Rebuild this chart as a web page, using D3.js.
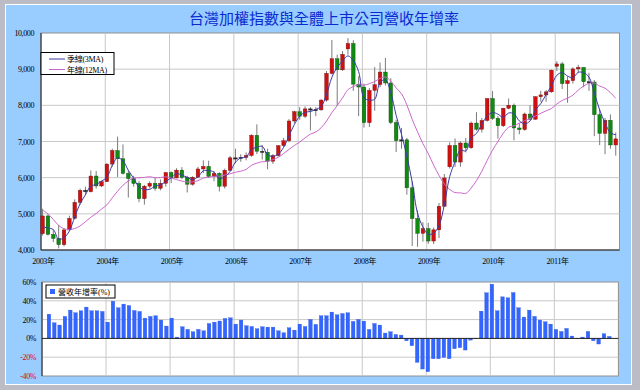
<!DOCTYPE html>
<html><head><meta charset="utf-8">
<script src="https://cdn.jsdelivr.net/npm/d3@7"></script>
<style>body{margin:0;background:#c0c0c8}svg{display:block}</style>
</head><body><svg id="c" width="640" height="390"></svg>
<script>
const title = "台灣加權指數與全體上市公司營收年增率";
const yearLabels = ["2003年","2004年","2005年","2006年","2007年","2008年","2009年","2010年","2011年"];
const indexTicks = [4000,5000,6000,7000,8000,9000,10000];
const pctTicks = [-40,-20,0,20,40,60];

const openV = [4452,4941,4432,4321,4148,4555,4872,5318,5650,5611,6045,5771,
 5890,6375,6750,6522,6117,5977,5839,5420,5765,5845,5706,5844,
 6140,5994,6208,6006,5819,6012,6241,6311,6033,6118,5764,6204,
 6548,6532,6561,6614,7171,6730,6704,6455,6611,6884,7021,7567,
 7823,7700,7902,7884,7875,8145,8883,9287,8982,9560,9711,8586,
 8506,7521,8413,8572,8920,8619,7524,7024,7046,5719,4870,4460,
 4591,4248,4557,5210,6300,6890,6432,6958,6826,7509,7340,7582,
 8188,7640,7436,7920,8004,7374,7329,7760,7616,8238,8287,8372,
 9080,9145,8600,8683,9007,9050,8652,8644,7741,7225,7587,6904];
const highV = [5141,4990,4560,4690,4600,4950,5400,5700,5750,6200,6182,5920,
 6400,6800,7135,6918,6200,6050,5900,5800,5900,6000,5950,6160,
 6170,6260,6290,6050,6040,6300,6480,6470,6180,6150,6250,6600,
 6800,6650,6700,7200,7474,6900,6800,6650,6900,7100,7620,7850,
 7950,7970,7950,7950,8170,8950,9807,9400,9500,9859,9800,8800,
 8600,8480,9055,9183,9309,8750,7600,7376,7100,5900,5100,4770,
 4750,4620,5300,6100,6977,7084,7000,7100,7550,7811,7650,8190,
 8395,7700,7930,8190,8050,7500,7800,8000,8250,8400,8420,8990,
 9220,9200,8800,9050,9120,9040,8900,8700,7900,7650,7750,7250];
const lowV = [4400,4400,4220,4044,4100,4550,4850,5250,5530,5590,5700,5740,
 5880,6300,6020,6090,5450,5750,5320,5255,5700,5640,5650,5750,
 5850,5980,5960,5590,5780,6000,6130,5990,5900,5620,5700,6180,
 6400,6440,6480,6580,6650,6500,6232,6380,6580,6850,6980,7500,
 7600,7650,7306,7700,7850,8100,8850,7987,8950,9400,8400,7700,
 7384,7400,7850,8500,8550,7480,6708,6800,5530,4110,4090,4230,
 4170,4164,4328,5200,6250,6300,6300,6700,6800,7300,7250,7550,
 7600,7080,7400,7890,7032,7200,7300,7600,7600,8100,8100,8350,
 8950,8450,8070,8600,8900,8500,8400,7148,6900,6650,6800,6609];
const closeV = [4941,4432,4321,4148,4555,4872,5318,5650,5611,6045,5771,5890,
 6375,6750,6522,6117,5977,5839,5420,5765,5845,5706,5844,6140,
 5994,6208,6006,5819,6012,6241,6311,6033,6118,5764,6204,6548,
 6532,6561,6614,7171,6730,6704,6455,6611,6884,7021,7567,7823,
 7700,7902,7884,7875,8145,8883,9287,8982,9411,9711,8586,8506,
 7521,8413,8572,8920,8619,7524,7024,7046,5719,4870,4460,4591,
 4248,4557,5210,5992,6890,6432,6958,6826,7509,7340,7582,8188,
 7640,7436,7920,8004,7374,7329,7760,7616,8238,8287,8372,8972,
 9145,8600,8683,9007,9050,8652,8644,7741,7225,7587,6904,7072];
const ma3 = [4640,4608,4565,4300,4341,4525,4915,5280,5526,5769,5809,5902,
 6012,6338,6549,6463,6205,5978,5745,5675,5677,5772,5798,5897,
 5993,6114,6069,6011,5946,6024,6188,6195,6154,5972,6029,6172,
 6428,6547,6569,6782,6838,6868,6630,6590,6650,6839,7157,7470,
 7697,7808,7829,7887,7968,8301,8772,9051,9227,9368,9236,8934,
 8204,8147,8169,8635,8704,8354,7722,7198,6596,5878,5016,4640,
 4433,4465,4672,5253,6031,6438,6760,6739,7098,7225,7477,7703,
 7803,7755,7665,7787,7766,7569,7488,7568,7871,8047,8299,8544,
 8830,8906,8809,8763,8913,8903,8782,8346,7870,7518,7239,7188];
const ma12 = [5102,4999,4845,4680,4587,4563,4595,4666,4784,4906,5010,5130,
 5249,5442,5626,5790,5908,5989,5997,6007,6026,5998,6004,6025,
 5993,5948,5905,5880,5883,5917,5991,6013,6036,6041,6071,6105,
 6150,6179,6230,6342,6402,6441,6453,6501,6565,6670,6783,6889,
 6987,7099,7204,7263,7381,7563,7799,7996,8207,8431,8516,8573,
 8558,8600,8658,8745,8784,8671,8482,8321,8013,7610,7266,6940,
 6667,6346,6066,5822,5678,5587,5581,5563,5712,5918,6178,6478,
 6760,7000,7226,7394,7434,7509,7576,7642,7702,7781,7847,7912,
 8038,8135,8198,8282,8422,8532,8606,8616,8532,8473,8351,8193];
const growth = [null,25.8,16.6,14.2,23.4,30.1,27.3,29.4,33.3,29.4,29.4,28.7,
 17.3,39.6,32.6,36.5,35.0,29.7,28.7,21.6,23.4,24.1,19.5,13.1,
 21.6,1.4,12.4,9.6,7.1,9.6,8.1,15.9,17.3,18.5,21.2,21.9,
 15.2,19.5,13.5,12.7,10.3,12.4,12.0,12.0,8.1,6.0,11.3,8.8,
 15.2,12.7,20.2,14.9,24.1,24.1,28.0,25.1,26.5,27.3,18.1,20.2,
 18.4,9.6,15.9,14.2,5.7,7.1,4.2,3.5,-2.5,-7.8,-25.5,-32.6,
 -35.4,-21.6,-21.6,-20.2,-21.6,-11.0,-9.9,-12.4,-1.8,0.3,29.0,48.5,
 57.7,29.4,44.2,43.2,48.8,32.6,22.7,30.1,23.4,19.5,17.7,15.2,
 9.6,7.4,10.6,2.5,-0.4,1.4,7.4,-2.5,-6.0,5.0,2.1,null];

const N = closeV.length;
const svg = d3.select("#c");
const font = "'Liberation Serif','Noto Sans CJK TC',serif";

// frame
svg.append("rect").attr("x",0).attr("y",0).attr("width",640).attr("height",390).attr("fill","#bcbcc6");
svg.append("rect").attr("x",5.5).attr("y",4.5).attr("width",626).attr("height",380)
  .attr("fill","#99ccff").attr("stroke","#ffffff");

svg.append("text").attr("x",324).attr("y",24).attr("text-anchor","middle")
  .attr("font-family","'Noto Sans CJK TC',sans-serif").attr("font-size",15)
  .attr("fill","#0a2ad0").text(title);

// ---------- top chart ----------
const x = d3.scaleLinear().domain([0,N]).range([41,619.5]);
const y = d3.scaleLinear().domain([4000,10000]).range([250,33]);
const g = svg.append("g");
g.append("rect").attr("x",41).attr("y",33).attr("width",578.5).attr("height",217)
  .attr("fill","#fff").attr("stroke","#909090");
g.selectAll(".hg").data(indexTicks.slice(1,-1)).join("line")
  .attr("x1",41).attr("x2",619.5).attr("y1",d=>y(d)).attr("y2",d=>y(d))
  .attr("stroke","#c8c8c8");
g.selectAll(".vg").data(d3.range(1,9)).join("line")
  .attr("x1",d=>x(d*12)).attr("x2",d=>x(d*12)).attr("y1",33).attr("y2",250)
  .attr("stroke","#c8c8c8");
g.append("line").attr("x1",41).attr("x2",41).attr("y1",33).attr("y2",250).attr("stroke","#222");
g.append("line").attr("x1",41).attr("x2",619.5).attr("y1",250).attr("y2",250).attr("stroke","#222");

g.selectAll(".yt").data(indexTicks).join("text")
  .attr("x",34).attr("y",d=>y(d)+3).attr("text-anchor","end")
  .attr("font-family",font).attr("font-size",8).attr("letter-spacing",-0.4)
  .attr("fill","#000").text(d=>d3.format(",")(d));
g.selectAll(".xt").data(yearLabels).join("text")
  .attr("x",(d,i)=>x(i*12)+2.5).attr("y",264).attr("text-anchor","middle")
  .attr("font-family",font).attr("font-size",8).attr("letter-spacing",-0.3)
  .attr("fill","#000").text(d=>d);

const idx = d3.range(N);
// wicks
g.selectAll(".wk").data(idx).join("line")
  .attr("x1",i=>x(i+0.3)).attr("x2",i=>x(i+0.3))
  .attr("y1",i=>y(highV[i])).attr("y2",i=>y(lowV[i]))
  .attr("stroke","#7a7a7a").attr("stroke-width",1);
// bodies
const bw = 3.6;
g.selectAll(".bd").data(idx).join("rect")
  .attr("x",i=>x(i+0.3)-bw/2).attr("width",bw)
  .attr("y",i=>y(Math.max(openV[i],closeV[i])))
  .attr("height",i=>Math.max(1.2,Math.abs(y(openV[i])-y(closeV[i]))))
  .attr("fill",i=>Math.abs(closeV[i]-openV[i])<40?"#222":(closeV[i]>openV[i]?"#d01010":"#108a10"))
  .attr("stroke",i=>Math.abs(closeV[i]-openV[i])<40?"#222":(closeV[i]>openV[i]?"#701010":"#0a4a0a"))
  .attr("stroke-width",0.4);

const ln = d3.line().x((d,i)=>x(i+0.3)).y(d=>y(d)).curve(d3.curveCatmullRom.alpha(0.5));
g.append("path").attr("d",ln(ma12)).attr("fill","none").attr("stroke","#cc66cc").attr("stroke-width",1);
g.append("path").attr("d",ln(ma3)).attr("fill","none").attr("stroke","#3a3aa8").attr("stroke-width",1);

// legend top
const lg = g.append("g");
lg.append("rect").attr("x",41).attr("y",52.5).attr("width",73).attr("height",22)
  .attr("fill","#fff").attr("stroke","#000");
[["季線(3MA)","#3a3aa8"],["年線(12MA)","#cc66cc"]].forEach((d,k)=>{
  const yy = 59 + k*10.5;
  lg.append("line").attr("x1",49).attr("x2",65).attr("y1",yy).attr("y2",yy).attr("stroke",d[1]);
  lg.append("text").attr("x",67).attr("y",yy+3).attr("font-family",font).attr("font-size",8)
    .attr("letter-spacing",-0.3).attr("fill","#000").text(d[0]);
});

// ---------- bottom chart ----------
const x2 = d3.scaleLinear().domain([0,N]).range([42,618.4]);
const y2 = d3.scaleLinear().domain([-40,60]).range([376,282]);
const b = svg.append("g");
b.append("rect").attr("x",42).attr("y",282).attr("width",576.4).attr("height",94)
  .attr("fill","#fff").attr("stroke","#909090");
b.selectAll(".hg").data([-20,20,40]).join("line")
  .attr("x1",42).attr("x2",618.4).attr("y1",d=>y2(d)).attr("y2",d=>y2(d)).attr("stroke","#c8c8c8");
b.selectAll(".vg").data(d3.range(1,9)).join("line")
  .attr("x1",d=>x2(d*12)).attr("x2",d=>x2(d*12)).attr("y1",282).attr("y2",376).attr("stroke","#c8c8c8");
b.append("line").attr("x1",42).attr("x2",42).attr("y1",282).attr("y2",376).attr("stroke","#222");
b.selectAll(".yt").data(pctTicks).join("text")
  .attr("x",36).attr("y",d=>y2(d)+3).attr("text-anchor","end")
  .attr("font-family",font).attr("font-size",8).attr("letter-spacing",-0.4)
  .attr("fill",d=>d<0?"#e00000":"#000").text(d=>d+"%");
const bidx = idx.filter(i=>growth[i]!==null);
b.selectAll(".bar").data(bidx).join("rect")
  .attr("x",i=>x2(i+0.3)-1.8).attr("width",3.6)
  .attr("y",i=>y2(Math.max(0,growth[i])))
  .attr("height",i=>Math.abs(y2(growth[i])-y2(0)))
  .attr("fill","#3366ff").attr("stroke","#2a50d8").attr("stroke-width",0.3);
b.append("line").attr("x1",42).attr("x2",618.4).attr("y1",y2(0)).attr("y2",y2(0)).attr("stroke","#222");

const lb = b.append("g");
lb.append("rect").attr("x",46).attr("y",285).attr("width",69).attr("height",13)
  .attr("fill","#fff").attr("stroke","#000");
lb.append("rect").attr("x",50).attr("y",289).attr("width",5).attr("height",5).attr("fill","#3366ff");
lb.append("text").attr("x",58).attr("y",294.5).attr("font-family",font).attr("font-size",8)
  .attr("fill","#000").text("營收年增率(%)");
</script></body></html>
